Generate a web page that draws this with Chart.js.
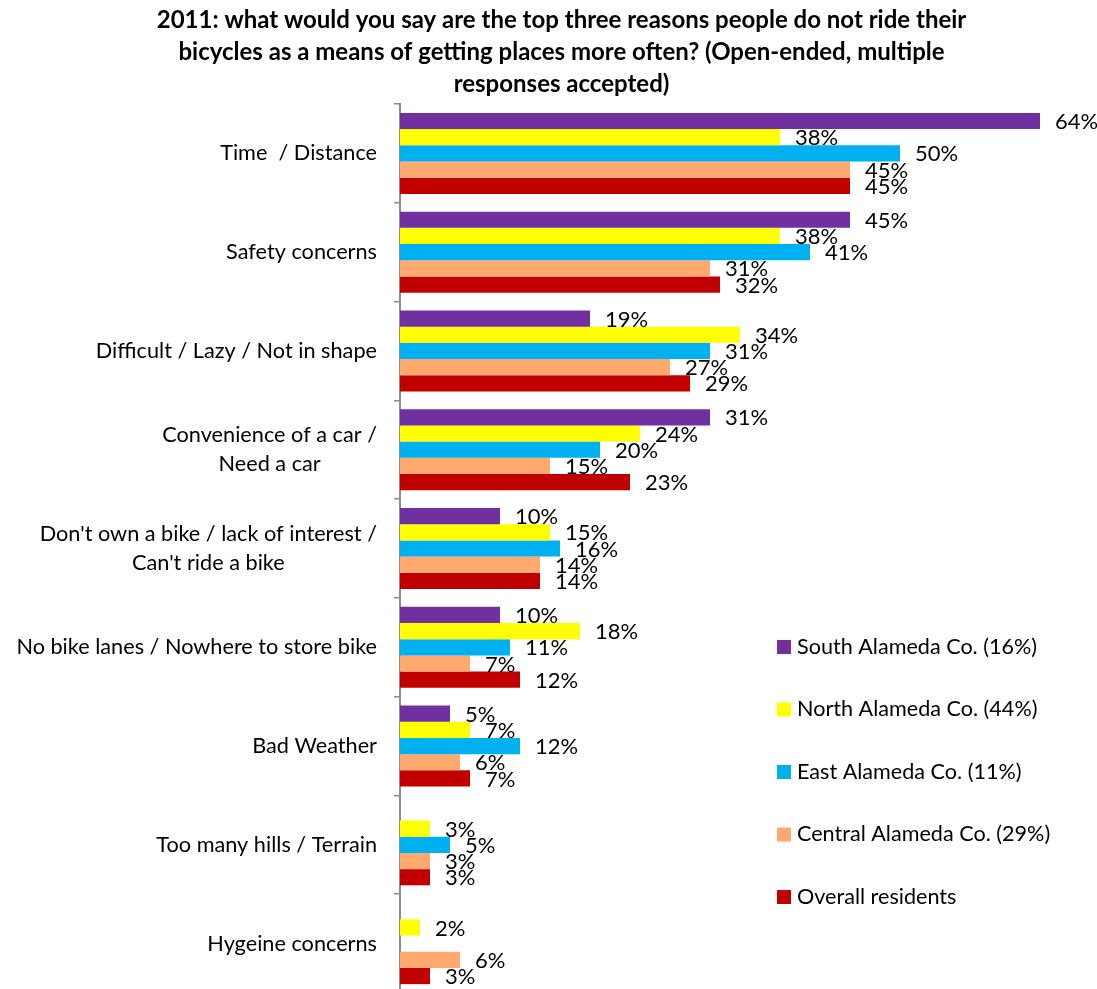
<!DOCTYPE html>
<html>
<head>
<meta charset="utf-8">
<script src="https://cdn.jsdelivr.net/npm/chart.js@4/dist/chart.umd.min.js"></script>
<style>
  html, body { margin: 0; padding: 0; background: #fff; overflow: hidden; }
  #frame { width: 1097px; height: 989px; overflow: hidden; position: relative; }
  canvas { display: block; }
</style>
</head>
<body>
<div id="frame"><canvas id="chart" width="1097" height="993"></canvas></div>
<script>
// Reasons for not cycling, share of respondents (%) by region
const reasons = [
  ['Time  / Distance'],
  ['Safety concerns'],
  ['Difficult / Lazy / Not in shape'],
  ['Convenience of a car /', 'Need a car'],
  ["Don't own a bike / lack of interest /", "Can't ride a bike"],
  ['No bike lanes / Nowhere to store bike'],
  ['Bad Weather'],
  ['Too many hills / Terrain'],
  ['Hygeine concerns']
];
const seriesNames = [
  'South Alameda Co. (16%)',
  'North Alameda Co. (44%)',
  'East Alameda Co. (11%)',
  'Central Alameda Co. (29%)',
  'Overall residents'
];
const southValues   = [64, 45, 19, 31, 10, 10, 5, null, null];
const northValues   = [38, 38, 34, 24, 15, 18, 7, 3, 2];
const eastValues    = [50, 41, 31, 20, 16, 11, 12, 5, null];
const centralValues = [45, 31, 27, 15, 14, 7, 6, 3, 6];
const overallValues = [45, 32, 29, 23, 14, 12, 7, 3, 3];
const seriesColors = ['#7030A0', '#FFFF00', '#00B0F0', '#FFA96E', '#C00000'];
const titleLines = [
  '2011: what would you say are the top three reasons people do not ride their',
  'bicycles as a means of getting places more often? (Open-ended, multiple',
  'responses accepted)'
];

const FONT = 'Lato, "Open Sans", sans-serif';
const CAT_SIZE = 21.7;
const VALUE_SIZE = 22;
const LEGEND_SIZE = 21.6;

// Category labels: each block right-aligned to the axis, lines centred within the block
const categoryLabels = {
  id: 'categoryLabels',
  afterDraw(chart) {
    const ctx = chart.ctx;
    const y = chart.scales.y;
    const right = chart.chartArea.left - 23;
    const lh = 29;
    ctx.save();
    ctx.font = CAT_SIZE + 'px ' + FONT;
    ctx.fillStyle = '#000';
    ctx.textAlign = 'center';
    ctx.textBaseline = 'middle';
    reasons.forEach((lines, i) => {
      const w = Math.max(...lines.map(l => ctx.measureText(l).width));
      const cx = right - w / 2;
      const cy = y.getPixelForValue(i);
      lines.forEach((l, k) => {
        ctx.fillText(l, cx, cy + (k - (lines.length - 1) / 2) * lh);
      });
    });
    ctx.restore();
  }
};

// Value labels just past the end of each bar
const valueLabels = {
  id: 'valueLabels',
  afterDatasetsDraw(chart) {
    const ctx = chart.ctx;
    ctx.save();
    ctx.font = VALUE_SIZE + 'px ' + FONT;
    ctx.fillStyle = '#000';
    ctx.textAlign = 'left';
    ctx.textBaseline = 'middle';
    chart.data.datasets.forEach((ds, di) => {
      const meta = chart.getDatasetMeta(di);
      meta.data.forEach((bar, i) => {
        const v = ds.data[i];
        if (v === null || v === undefined) return;
        ctx.fillText(v + '%', bar.x + 15, bar.y + 1);
      });
    });
    ctx.restore();
  }
};

// Legend placed inside the plot, lower right
const sideLegend = {
  id: 'sideLegend',
  afterDraw(chart) {
    const ctx = chart.ctx;
    const area = chart.chartArea;
    const x0 = area.left + 377;
    const y0 = area.top + 543;
    const step = 62.5;
    ctx.save();
    ctx.font = LEGEND_SIZE + 'px ' + FONT;
    ctx.textAlign = 'left';
    ctx.textBaseline = 'middle';
    chart.data.datasets.forEach((ds, i) => {
      const cy = y0 + i * step;
      ctx.fillStyle = ds.backgroundColor;
      ctx.fillRect(x0, cy - 7, 14, 14);
      ctx.fillStyle = '#000';
      ctx.fillText(ds.label, x0 + 20, cy);
    });
    ctx.restore();
  }
};

const valueArrays = [southValues, northValues, eastValues, centralValues, overallValues];

new Chart(document.getElementById('chart'), {
  type: 'bar',
  data: {
    labels: reasons.map(r => r.join(' ')),
    datasets: valueArrays.map((vals, i) => ({
      label: seriesNames[i],
      data: vals,
      backgroundColor: seriesColors[i],
      borderWidth: 0,
      categoryPercentage: 0.82,
      barPercentage: 1.0
    }))
  },
  options: {
    indexAxis: 'y',
    responsive: false,
    animation: false,
    layout: { padding: { left: 26, right: 0, top: 0, bottom: 0 } },
    plugins: {
      legend: { display: false },
      tooltip: { enabled: false },
      title: {
        display: true,
        text: titleLines,
        color: '#000',
        font: { family: FONT, size: 24, weight: 'bold', lineHeight: 32 / 24 },
        padding: { top: 4, bottom: 4 }
      }
    },
    scales: {
      x: { display: false, min: 0, max: 69.7 },
      y: {
        offset: true,
        ticks: { display: false },
        grid: {
          display: true,
          offset: true,
          drawOnChartArea: false,
          drawTicks: true,
          tickLength: 6,
          color: '#8c8c8c',
          lineWidth: 1.5
        },
        border: { display: true, color: '#8c8c8c', width: 2 },
        afterFit(scale) { scale.width = 374; }
      }
    }
  },
  plugins: [categoryLabels, valueLabels, sideLegend]
});
</script>
</body>
</html>
